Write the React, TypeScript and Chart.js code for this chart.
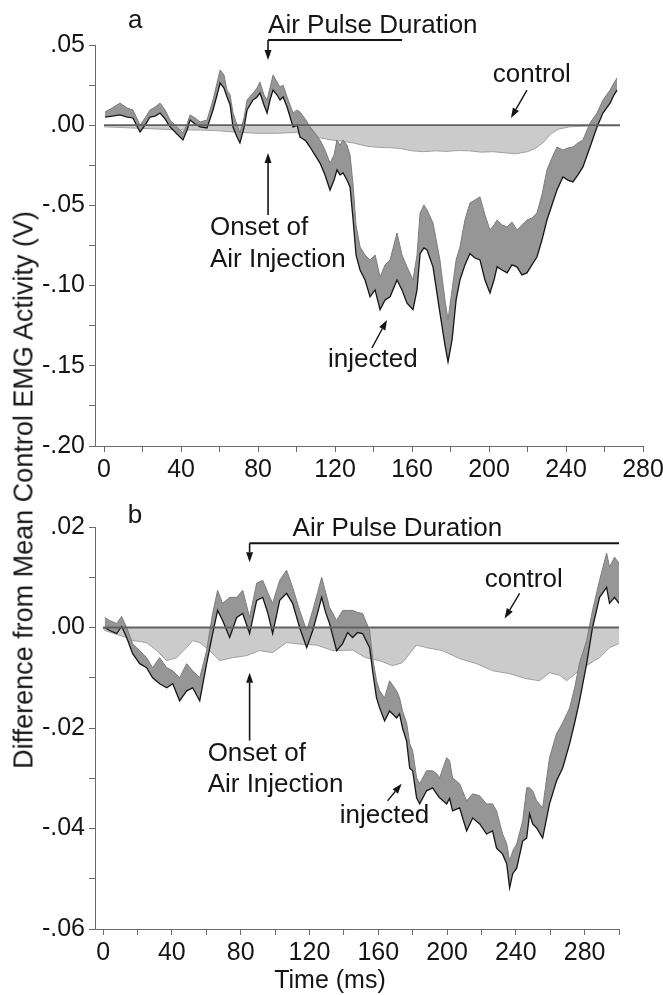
import React, { useEffect, useRef } from "react";
import { Chart, registerables } from "chart.js";
Chart.register(...registerables);

const FONT = "'Liberation Sans', Arial, Helvetica, sans-serif";

// ---------- Panel a ----------
const aTime = [
  0.5, 4.2, 8.3, 12, 15, 18.7, 21.3, 23.9, 26.5, 29.1,
  31.7, 34.3, 37.9, 41, 43.1, 44.7, 47.3, 49.9, 53.5, 56.6,
  58.7, 60.3, 62.3, 63.9, 65.5, 67, 69.1, 70.6, 72.7, 74.3,
  77.4, 79.5, 81, 83.1, 84.7, 86.2, 87.8, 89.9, 91.4, 93,
  95.1, 98.2, 100.3, 101.8, 104.9, 107, 109.6, 112.2, 114.8, 117.4,
  119.5, 121, 122.6, 124.2, 126.2, 127.8, 129.4, 130.9, 133, 135.6,
  138.2, 140.8, 143.4, 146, 148.6, 152.2, 154.8, 157.4, 160.5, 162.6,
  164.2, 166.2, 167.8, 170.9, 174.5, 177.1, 178.7, 180.8, 182.9, 184.9,
  187.5, 190.1, 192.7, 195.3, 197.9, 200.5, 202.6, 204.2, 206.8, 209.4,
  211.9, 214.5, 217.1, 219.7, 222.3, 224.9, 227.5, 230.1, 232.7, 235.3,
  238.4, 241, 243.6, 246.2, 248.8, 252.5, 256.1, 259.2, 262.9, 264.9,
  266.5,
];
const aInjLow = [
  0.0051, 0.0057, 0.0064, 0.0051, 0.0045, -0.0042, 0.0001, 0.0051, 0.0057, 0.0076,
  0.0039, -0.0011, -0.0055, -0.0092, -0.003, 0.0032, 0.0007, -0.0011, -0.0017, 0.0095,
  0.0188, 0.0263, 0.0232, 0.0176, 0.0126, -0.0011, -0.0074, -0.0111, -0.0017, 0.0095,
  0.0157, 0.0176, 0.0201, 0.0126, 0.0076, 0.0157, 0.0219, 0.0188, 0.0157, 0.0176,
  0.0113, -0.0011, 0.0001, -0.0074, -0.0099, -0.0136, -0.0186, -0.0236, -0.031, -0.0404,
  -0.0342, -0.0279, -0.031, -0.0298, -0.0342, -0.0385, -0.0591, -0.0809, -0.0903, -0.0965,
  -0.107, -0.1027, -0.115, -0.1089, -0.107, -0.0965, -0.1027, -0.111, -0.115, -0.1027,
  -0.08, -0.0765, -0.0778, -0.0883, -0.117, -0.137, -0.1476, -0.1338, -0.1089, -0.0965,
  -0.0871, -0.08, -0.0828, -0.084, -0.0965, -0.1046, -0.0965, -0.0883, -0.0903, -0.0921,
  -0.0871, -0.0883, -0.0933, -0.0921, -0.0871, -0.0822, -0.0716, -0.0591, -0.0498, -0.0404,
  -0.0323, -0.0342, -0.0354, -0.031, -0.026, -0.0136, -0.0011, 0.0076, 0.0138, 0.0188,
  0.0219,
];
const aInjHigh = [
  0.0082, 0.0107, 0.0138, 0.0107, 0.0095, 0.0001, 0.0045, 0.0095, 0.0113, 0.0138,
  0.0095, 0.0032, -0.0011, -0.0049, 0.0007, 0.0064, 0.0045, 0.002, 0.0032, 0.0157,
  0.0263, 0.0344, 0.0313, 0.0219, 0.0188, 0.0076, 0.0001, -0.0049, 0.0045, 0.0157,
  0.0201, 0.0232, 0.0269, 0.0188, 0.0157, 0.0232, 0.0313, 0.0269, 0.0238, 0.025,
  0.0176, 0.0076, 0.0095, 0.0082, 0.0032, -0.0011, -0.0049, -0.0092, -0.0155, -0.0236,
  -0.0186, -0.0092, -0.0124, -0.0092, -0.0124, -0.0186, -0.0373, -0.0622, -0.0759, -0.0809,
  -0.084, -0.0809, -0.0946, -0.0871, -0.084, -0.0672, -0.0809, -0.0883, -0.0965, -0.0809,
  -0.0547, -0.0497, -0.0528, -0.061, -0.084, -0.1089, -0.1214, -0.1027, -0.084, -0.0759,
  -0.0591, -0.0485, -0.0466, -0.0447, -0.056, -0.0653, -0.0622, -0.0591, -0.0622, -0.0634,
  -0.0603, -0.0653, -0.0622, -0.0591, -0.0579, -0.0547, -0.0435, -0.0279, -0.0204, -0.0136,
  -0.0155, -0.0142, -0.0136, -0.0111, -0.0092, 0.0014, 0.0076, 0.0157, 0.0219, 0.0263,
  0.0294,
];
const aCtlTime = [
  0, 10, 20, 30, 40, 50, 60, 70, 80, 90,
  100, 106, 112, 118, 124, 130, 136, 142, 148, 154,
  160, 166, 172, 178, 184, 190, 196, 202, 208, 214,
  220, 224, 228, 232, 236, 242, 250, 258, 268,
];
const aCtlLow = [
  -0.001, -0.0015, -0.002, -0.0025, -0.003, -0.003, -0.0035, -0.0045, -0.005, -0.005,
  -0.0045, -0.0065, -0.0078, -0.0092, -0.01, -0.0112, -0.013, -0.0138, -0.014, -0.0145,
  -0.016, -0.0165, -0.016, -0.0163, -0.0158, -0.016, -0.0168, -0.0165, -0.0172, -0.0178,
  -0.0165, -0.0145, -0.011, -0.0055, -0.0025, -0.001, -0.0006, -0.0005, -0.0005,
];
const aControlSpan = [0, 268];

// ---------- Panel b ----------
const bTime = [
  0.9, 3.8, 7.9, 10.8, 13.7, 17.2, 21.3, 25.3, 28.8, 32.9,
  37, 40.5, 44.5, 48.6, 52.1, 56.2, 60.2, 63.7, 66.6, 69.5,
  73.6, 77.7, 81.2, 85.2, 89.3, 92.8, 95.7, 98.6, 102.7, 106.7,
  110.2, 114.3, 118.4, 121.9, 124.8, 127.1, 129.4, 131.7, 135.8, 139.3,
  142.2, 145.1, 148, 150.9, 155, 156.7, 159, 160.8, 163.7, 166.6,
  170.7, 172.4, 174.1, 176.5, 178.3, 180, 182.3, 184.1, 188.1, 191.6,
  194, 195.7, 199.8, 201.5, 203.2, 207.3, 211.4, 214.9, 219, 223,
  226.5, 228.8, 232.3, 234.7, 236.4, 238.2, 240.5, 244, 246.3, 248,
  249.8, 252.1, 255.6, 259.6, 263.7, 267.2, 271.3, 274.2, 277.1, 281.2,
  284.6, 288.7, 292.8, 294.5, 297.4, 300,
];
const bInjLow = [
  0, -0.0006, -0.0012, 0.0002, -0.002, -0.0052, -0.0072, -0.008, -0.01, -0.0112,
  -0.012, -0.0112, -0.0146, -0.0126, -0.012, -0.0146, -0.0072, -0.0012, 0.0034, 0.0014,
  -0.002, 0.002, 0.0028, -0.0012, 0.0054, 0.006, 0.003, -0.0012, 0.0054, 0.0068,
  0.0048, 0, -0.004, -0.0006, 0.003, 0.006, 0.003, 0.0008, -0.0046, -0.0032,
  -0.001, -0.002, -0.001, -0.0012, -0.004, -0.0086, -0.014, -0.016, -0.0186, -0.0166,
  -0.018, -0.0172, -0.02, -0.0226, -0.028, -0.0285, -0.0339, -0.0351, -0.0325, -0.0319,
  -0.0331, -0.0339, -0.0351, -0.034, -0.0365, -0.0359, -0.0405, -0.0379, -0.0391, -0.0411,
  -0.0405, -0.0439, -0.0451, -0.047, -0.0518, -0.049, -0.0479, -0.0425, -0.0419, -0.0371,
  -0.0391, -0.0399, -0.0419, -0.0351, -0.0305, -0.028, -0.0231, -0.019, -0.0145, -0.0072,
  0, 0.006, 0.008, 0.0048, 0.006, 0.0048,
];
const bInjHigh = [
  0.002, 0.0014, 0.0008, 0.0022, 0, -0.0032, -0.0046, -0.006, -0.008, -0.006,
  -0.008, -0.0086, -0.01, -0.0072, -0.0086, -0.01, -0.0046, 0.0028, 0.0074, 0.0048,
  0.006, 0.006, 0.0074, 0.002, 0.0088, 0.0094, 0.007, 0.0048, 0.0094, 0.0114,
  0.008, 0.0034, -0.0006, 0.0034, 0.007, 0.01, 0.007, 0.004, 0.0014, 0.0034,
  0.0034, 0.0034, 0.003, 0.0028, -0.0006, -0.006, -0.0106, -0.0126, -0.014, -0.0106,
  -0.0126, -0.014, -0.0166, -0.019, -0.0231, -0.0245, -0.0299, -0.0311, -0.0285, -0.0285,
  -0.0291, -0.0299, -0.0259, -0.0265, -0.0299, -0.0311, -0.0345, -0.0331, -0.0335, -0.0351,
  -0.0351, -0.0365, -0.0411, -0.043, -0.0465, -0.0445, -0.0431, -0.0385, -0.0319, -0.0319,
  -0.0325, -0.0345, -0.0359, -0.0259, -0.0211, -0.019, -0.016, -0.012, -0.007, -0.0026,
  0.0034, 0.0094, 0.0148, 0.012, 0.014, 0.0128,
];
const bCtlTime = [
  0, 0.9, 13.7, 17.2, 25.3, 31.2, 37, 42.8, 48.6, 52.1,
  56.2, 62, 67.8, 75.3, 83.5, 91, 98.6, 106.7, 114.3, 124.2,
  133.5, 145.1, 152.7, 160.8, 168.4, 174, 182.3, 188, 197.4, 207.3,
  217.2, 226.5, 236.4, 246.3, 253.8, 259.6, 265.5, 269.5, 279, 288.7,
  294.5, 300,
];
const bCtlLow = [
  0, -0.0006, -0.002, -0.0026, -0.003, -0.0046, -0.0066, -0.006, -0.004, -0.0026,
  -0.003, -0.0046, -0.0066, -0.006, -0.0056, -0.0046, -0.005, -0.003, -0.0033, -0.0035,
  -0.0046, -0.0045, -0.006, -0.0066, -0.0076, -0.007, -0.0035, -0.004, -0.0046, -0.0062,
  -0.0072, -0.0086, -0.0092, -0.0102, -0.0106, -0.009, -0.0095, -0.0106, -0.008, -0.006,
  -0.004, -0.0032,
];
const bControlSpan = [0, 300];

// tick settings
const aYLabelStep = 0.05;
const bYLabelStep = 0.02;
const xLabelStep = 40;

type Pt = [number, number];
interface Notes {
  letter: { text: string; at: Pt };
  pulse: { textAt: Pt; from: number; to: number; lineY: number; tipY: number };
  control: { textAt: Pt; arrowFrom: Pt; arrowTo: Pt };
  onset: { line1: Pt; line2: Pt; x: number; fromY: number; tipY: number };
  injected: { textAt: Pt; arrowFrom: Pt; arrowTo: Pt };
  timeTitle?: { x: number; y: number };
}

const notesA: Notes = {
  letter: { text: "a", at: [12.5, 0.0606] },
  pulse: { textAt: [85.2, 0.0574], from: 85.2, to: 154.8, lineY: 0.0531, tipY: 0.0406 },
  control: { textAt: [202, 0.0269], arrowFrom: [219.7, 0.0219], arrowTo: [211.4, 0.0045] },
  onset: { line1: [55, -0.0684], line2: [55, -0.0883], x: 85.2, fromY: -0.056, tipY: -0.0173 },
  injected: { textAt: [116.4, -0.1507], arrowFrom: [139.2, -0.1388], arrowTo: [147, -0.1214] },
};
const notesB: Notes = {
  letter: { text: "b", at: [14.3, 0.0207] },
  pulse: { textAt: [110.2, 0.0183], from: 85.2, to: 300, lineY: 0.01675, tipY: 0.013 },
  control: { textAt: [221.9, 0.008], arrowFrom: [242.2, 0.0068], arrowTo: [233.5, 0.0018] },
  onset: { line1: [60.8, -0.0265], line2: [60.8, -0.0327], x: 85.2, fromY: -0.0225, tipY: -0.009 },
  injected: { textAt: [137.6, -0.0389], arrowFrom: [165.4, -0.0345], arrowTo: [173.6, -0.0311] },
  timeTitle: { x: 330, y: 493 },
};

function arrow(ctx: CanvasRenderingContext2D, x1: number, y1: number, x2: number, y2: number) {
  const ang = Math.atan2(y2 - y1, x2 - x1);
  const hl = 10, hw = 3.5;
  const bx = x2 - hl * Math.cos(ang), by = y2 - hl * Math.sin(ang);
  ctx.beginPath();
  ctx.moveTo(x1, y1);
  ctx.lineTo(bx, by);
  ctx.stroke();
  ctx.beginPath();
  ctx.moveTo(x2, y2);
  ctx.lineTo(bx + hw * Math.sin(ang), by - hw * Math.cos(ang));
  ctx.lineTo(bx - hw * Math.sin(ang), by + hw * Math.cos(ang));
  ctx.closePath();
  ctx.fill();
}

function notesPlugin(n: Notes) {
  return {
    id: "notes",
    afterDraw(chart: any) {
      const ctx: CanvasRenderingContext2D = chart.ctx;
      const xs = chart.scales.x, ys = chart.scales.y;
      const px = (t: number) => xs.getPixelForValue(t);
      const py = (v: number) => ys.getPixelForValue(v);
      ctx.save();
      ctx.fillStyle = "#151515";
      ctx.strokeStyle = "#151515";
      ctx.font = `26px ${FONT}`;
      ctx.textBaseline = "alphabetic";
      ctx.textAlign = "left";
      ctx.fillText(n.letter.text, px(n.letter.at[0]), py(n.letter.at[1]));
      ctx.fillText("Air Pulse Duration", px(n.pulse.textAt[0]), py(n.pulse.textAt[1]));
      ctx.fillText("control", px(n.control.textAt[0]), py(n.control.textAt[1]));
      ctx.fillText("Onset of", px(n.onset.line1[0]), py(n.onset.line1[1]));
      ctx.fillText("Air Injection", px(n.onset.line2[0]), py(n.onset.line2[1]));
      ctx.fillText("injected", px(n.injected.textAt[0]), py(n.injected.textAt[1]));
      // bracket
      ctx.lineWidth = 2;
      ctx.beginPath();
      ctx.moveTo(px(n.pulse.to), py(n.pulse.lineY));
      ctx.lineTo(px(n.pulse.from), py(n.pulse.lineY));
      ctx.stroke();
      ctx.lineWidth = 1.6;
      arrow(ctx, px(n.pulse.from), py(n.pulse.lineY), px(n.pulse.from), py(n.pulse.tipY));
      arrow(ctx, px(n.onset.x), py(n.onset.fromY), px(n.onset.x), py(n.onset.tipY));
      ctx.lineWidth = 1.4;
      arrow(ctx, px(n.control.arrowFrom[0]), py(n.control.arrowFrom[1]), px(n.control.arrowTo[0]), py(n.control.arrowTo[1]));
      arrow(ctx, px(n.injected.arrowFrom[0]), py(n.injected.arrowFrom[1]), px(n.injected.arrowTo[0]), py(n.injected.arrowTo[1]));
      if (n.timeTitle) {
        ctx.font = `25px ${FONT}`;
        ctx.textAlign = "center";
        ctx.fillText("Time (ms)", n.timeTitle.x, n.timeTitle.y);
      }
      ctx.restore();
    },
  };
}

function fmtY(step: number) {
  return (v: number) => {
    const k = v / step;
    if (Math.abs(k - Math.round(k)) > 1e-6) return "";
    const s = Math.abs(v).toFixed(2).replace(/^0/, "");
    return (v < -1e-9 ? "-" : "") + s;
  };
}
function fmtX(v: number) {
  const k = v / xLabelStep;
  if (Math.abs(k - Math.round(k)) > 1e-6) return "";
  return String(Math.round(v));
}

const pts = (xs: number[], ys: number[]) => xs.map((t, i) => ({ x: t, y: ys[i] }));

interface PanelCfg {
  height: number;
  top: number;
  right: number;
  bottomAxis: number;
  xMax: number;
  yMin: number;
  yMax: number;
  yStep: number;
  yLabelStep: number;
  time: number[];
  low: number[];
  high: number[];
  ctlTime: number[];
  ctlLow: number[];
  span: number[];
  notes: Notes;
}

function makeConfig(p: PanelCfg): any {
  const tickFont = { family: FONT, size: 25 };
  return {
    type: "line",
    data: {
      datasets: [
        {
          data: [{ x: p.span[0], y: 0 }, { x: p.span[1], y: 0 }],
          borderColor: "#606060",
          borderWidth: 1.8,
          pointRadius: 0,
          fill: false,
        },
        {
          data: pts(p.time, p.low),
          borderColor: "#161616",
          borderWidth: 1.3,
          pointRadius: 0,
          fill: false,
        },
        {
          data: pts(p.time, p.high),
          borderColor: "#7c7c7c",
          borderWidth: 1,
          pointRadius: 0,
          fill: "-1",
          backgroundColor: "#969696",
        },
        {
          data: pts(p.ctlTime, p.ctlLow),
          borderColor: "#a0a0a0",
          borderWidth: 1,
          pointRadius: 0,
          fill: "origin",
          backgroundColor: "#cbcbcb",
        },
      ],
    },
    options: {
      animation: false,
      responsive: false,
      events: [],
      layout: { padding: { top: p.top, right: p.right, left: 0, bottom: 0 } },
      plugins: { legend: { display: false }, tooltip: { enabled: false } },
      scales: {
        x: {
          type: "linear",
          min: -4.7,
          max: p.xMax,
          border: { display: true, color: "#6a6a6a", width: 1 },
          grid: { display: true, drawOnChartArea: false, drawTicks: true, tickLength: 6, color: "#6a6a6a" },
          ticks: { stepSize: 20, includeBounds: false, autoSkip: false, maxRotation: 0, padding: 3, color: "#151515", font: tickFont, callback: fmtX },
          afterFit: (s: any) => {
            s.height = p.height - p.bottomAxis;
            s.paddingLeft = 0;
            s.paddingRight = 0;
          },
        },
        y: {
          min: p.yMin,
          max: p.yMax,
          border: { display: true, color: "#6a6a6a", width: 1 },
          grid: { display: true, drawOnChartArea: false, drawTicks: true, tickLength: 6, color: "#6a6a6a" },
          ticks: { stepSize: p.yStep, autoSkip: false, padding: 4, color: "#151515", font: tickFont, callback: fmtY(p.yLabelStep) },
          afterFit: (s: any) => {
            s.width = 95;
            s.paddingTop = 0;
            s.paddingBottom = 0;
          },
        },
      },
    },
    plugins: [notesPlugin(p.notes)],
  };
}

function Panel({ cfg, top }: { cfg: PanelCfg; top: number }) {
  const ref = useRef<HTMLCanvasElement | null>(null);
  useEffect(() => {
    if (!ref.current) return;
    const chart = new Chart(ref.current, makeConfig(cfg));
    return () => chart.destroy();
  }, [cfg]);
  return (
    <canvas
      ref={ref}
      width={663}
      height={cfg.height}
      style={{ position: "absolute", left: 0, top, width: 663, height: cfg.height, display: "block" }}
    />
  );
}

const panelA: PanelCfg = {
  height: 495, top: 45, right: 20, bottomAxis: 446, xMax: 280,
  yMin: -0.2, yMax: 0.05, yStep: 0.025, yLabelStep: aYLabelStep,
  time: aTime, low: aInjLow, high: aInjHigh, ctlTime: aCtlTime, ctlLow: aCtlLow, span: aControlSpan,
  notes: notesA,
};
const panelB: PanelCfg = {
  height: 500, top: 32, right: 44, bottomAxis: 434, xMax: 300,
  yMin: -0.06, yMax: 0.02, yStep: 0.01, yLabelStep: bYLabelStep,
  time: bTime, low: bInjLow, high: bInjHigh, ctlTime: bCtlTime, ctlLow: bCtlLow, span: bControlSpan,
  notes: notesB,
};

export default function App() {
  return (
    <div style={{ position: "absolute", left: 0, top: 0, width: 663, height: 995, background: "#fff", overflow: "hidden" }}>
      <Panel cfg={panelA} top={0} />
      <Panel cfg={panelB} top={495} />
      <div
        style={{
          position: "absolute",
          left: 23.5,
          top: 490,
          transform: "translate(-50%, -50%) rotate(-90deg)",
          fontFamily: FONT,
          fontSize: 27,
          color: "#151515",
          whiteSpace: "nowrap",
          lineHeight: 1.15,
        }}
      >
        Difference from Mean Control EMG Activity (V)
      </div>
    </div>
  );
}
